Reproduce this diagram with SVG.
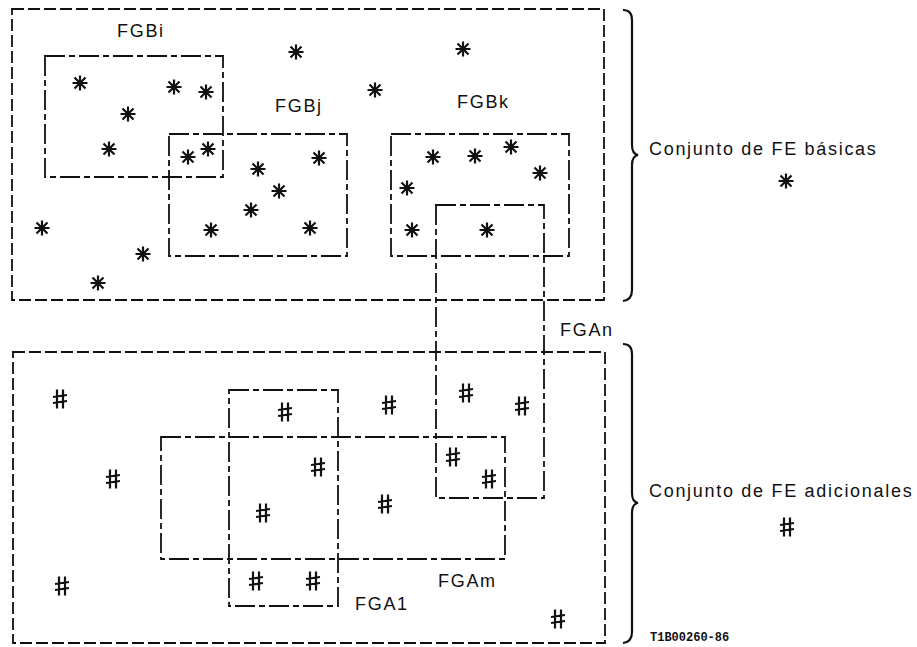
<svg xmlns="http://www.w3.org/2000/svg" xmlns:xlink="http://www.w3.org/1999/xlink" width="917" height="647" viewBox="0 0 917 647">
<style>
.outer{fill:none;stroke:#111;stroke-width:1.8;stroke-dasharray:12 4}
.inner{fill:none;stroke:#111;stroke-width:1.8;stroke-dasharray:20 4 6 4}
.lbl{font-family:"Liberation Sans",Arial,sans-serif;font-size:18px;letter-spacing:1.7px;fill:#111}
.brace{fill:none;stroke:#111;stroke-width:2.2}
.mk{stroke:#111;stroke-width:2.2;fill:none;stroke-linecap:butt}
.code{font-family:"Liberation Mono","DejaVu Sans Mono",monospace;font-size:12px;font-weight:bold;fill:#111}
</style>
<defs>
<g id="ast" class="mk">
<path d="M-7.5,0H7.5M0,-7.5V7.5M-5.5,-5.5L5.5,5.5M-5.5,5.5L5.5,-5.5"/>
<circle cx="0" cy="0" r="1.8" fill="#111" stroke="none"/>
</g>
<g id="hash" class="mk">
<path d="M-3,-9.5V9.5M3,-9.5V9.5M-7,-2L7,-4M-7,4L7,2"/>
</g>
</defs>
<rect width="917" height="647" fill="#fff"/>

<g id="basic-set">
<rect class="outer" x="12" y="9" width="592" height="291"/>
<use href="#ast" x="296" y="52"/>
<use href="#ast" x="42" y="228"/>
<use href="#ast" x="143" y="254"/>
<use href="#ast" x="98" y="283"/>
<use href="#ast" x="463" y="49"/>
<use href="#ast" x="375" y="90"/>
</g>

<g id="FGBi">
<rect class="inner" x="45" y="56" width="178" height="121"/>
<text class="lbl" x="117" y="37">FGBi</text>
<use href="#ast" x="80" y="83"/>
<use href="#ast" x="174" y="87"/>
<use href="#ast" x="206" y="92"/>
<use href="#ast" x="128" y="114"/>
<use href="#ast" x="109" y="149"/>
</g>

<g id="FGBj">
<rect class="inner" x="169" y="134" width="178" height="122"/>
<text class="lbl" x="275" y="112">FGBj</text>
<use href="#ast" x="188" y="157"/>
<use href="#ast" x="208" y="149"/>
<use href="#ast" x="258" y="169"/>
<use href="#ast" x="319" y="158"/>
<use href="#ast" x="279" y="191"/>
<use href="#ast" x="251" y="210"/>
<use href="#ast" x="211" y="230"/>
<use href="#ast" x="310" y="228"/>
</g>

<g id="FGBk">
<rect class="inner" x="391" y="134" width="178" height="122"/>
<text class="lbl" x="457" y="108">FGBk</text>
<use href="#ast" x="433" y="157"/>
<use href="#ast" x="475" y="156"/>
<use href="#ast" x="511" y="147"/>
<use href="#ast" x="540" y="173"/>
<use href="#ast" x="407" y="188"/>
<use href="#ast" x="412" y="230"/>
<use href="#ast" x="487" y="230"/>
</g>

<g id="additional-set">
<rect class="outer" x="13" y="352" width="592" height="291"/>
<use href="#hash" x="60" y="399"/>
<use href="#hash" x="113" y="479"/>
<use href="#hash" x="62" y="586"/>
<use href="#hash" x="389" y="405"/>
<use href="#hash" x="558" y="619"/>
</g>

<g id="FGAn">
<rect class="inner" x="436" y="205" width="108" height="293"/>
<text class="lbl" x="560" y="336">FGAn</text>
<use href="#hash" x="466" y="393"/>
<use href="#hash" x="522" y="406"/>
<use href="#hash" x="453" y="457"/>
</g>

<g id="FGA1">
<rect class="inner" x="229" y="390" width="109" height="216"/>
<text class="lbl" x="355" y="610">FGA1</text>
<use href="#hash" x="285" y="412"/>
<use href="#hash" x="256" y="581"/>
<use href="#hash" x="313" y="581"/>
</g>

<g id="FGAm">
<rect class="inner" x="161" y="437" width="344" height="122"/>
<text class="lbl" x="438" y="587">FGAm</text>
<use href="#hash" x="318" y="467"/>
<use href="#hash" x="263" y="513"/>
<use href="#hash" x="489" y="479"/>
<use href="#hash" x="385" y="504"/>
</g>

<g id="connectors">
<path class="brace" d="M623,10Q632,10 632,20L632,145Q632,154 638,155Q632,156 632,165L632,290Q632,300 623,301"/>
<path class="brace" d="M623,344Q632,344 632,354L632,493Q632,502 638,503Q632,504 632,513L632,632Q632,642 623,643"/>
</g>

<g id="legend">
<text class="lbl" x="649" y="155">Conjunto de FE básicas</text>
<use href="#ast" x="786" y="181"/>
<text class="lbl" x="649" y="497">Conjunto de FE adicionales</text>
<use href="#hash" x="787" y="527"/>
<text class="code" x="650" y="641">T1B00260-86</text>
</g>
</svg>
